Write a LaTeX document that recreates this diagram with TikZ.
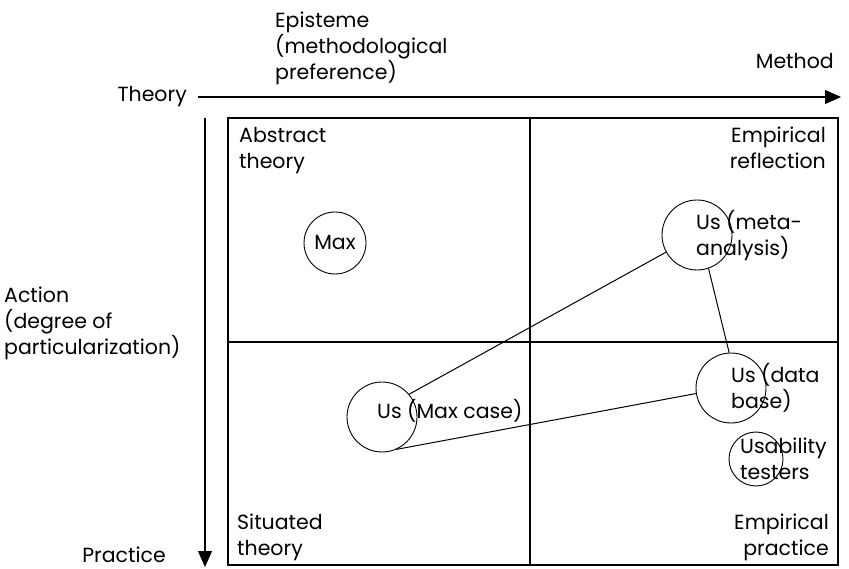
\documentclass[tikz,border=0pt]{standalone}
\usepackage{fontspec}
\setmainfont{Poppins}
\usetikzlibrary{arrows.meta}
\begin{document}
\begin{tikzpicture}[x=1pt,y=-1pt,
  lbl/.style={font=\fontsize{20.5}{26}\selectfont, inner sep=0pt, align=left},
  lblr/.style={lbl, align=right},
  blob/.style={draw, circle, line width=0.9pt, inner sep=0pt},
  link/.style={line width=1pt},
  axis/.style={line width=1.2pt, -{Triangle[length=16pt,width=14pt]}}]
\useasboundingbox (0,0) rectangle (849,569);

% quadrant frame
\draw[line width=2pt] (228,118) rectangle (838,565);
\draw[line width=1.1pt] (530,118) -- (530,565);
\draw[line width=1.1pt] (228,342) -- (838,342);

% axes
\coordinate (ax0) at (198,97);
\coordinate (ax1) at (841,97);
\coordinate (ay0) at (205,118);
\coordinate (ay1) at (205,567);
\draw[axis] (ax0) -- (ax1);
\draw[axis] (ay0) -- (ay1);

% axis labels
\node[lbl, anchor=east] (theory) at (187,97) {Theory};
\node[lbl, anchor=east] (method) at (834,61) {Method};
\node[lbl, anchor=north west] (episteme) at (275,12) {Episteme\\(methodological\\preference)};
\node[lbl, anchor=west] (action) at (4,323) {Action\\(degree of\\particularization)};
\node[lbl, anchor=east] (practice) at (166,555) {Practice};

% quadrant labels
\node[lbl, anchor=north west] (abs) at (239,127) {Abstract\\theory};
\node[lblr, anchor=north east] (emr) at (826,127) {Empirical\\reflection};
\node[lbl, anchor=south west] (sit) at (237,561) {Situated\\theory};
\node[lblr, anchor=south east] (emp) at (829,561) {Empirical\\practice};

% circles
\node[blob, minimum size=62pt] (max) at (335,243) {};
\node[blob, minimum size=70pt] (meta) at (697,235) {};
\node[blob, minimum size=70pt] (db) at (731,388) {};
\node[blob, minimum size=54pt] (ut) at (756,459) {};
\node[blob, minimum size=70pt] (mc) at (382,417) {};

% circle texts
\node[lbl] (maxt) at (max) {Max};
\node[lbl, anchor=west] (metat) at (696,236) {Us (meta-\\analysis)};
\node[lbl, anchor=west] (dbt) at (731,388) {Us (data\\base)};
\node[lbl, anchor=west] (utt) at (740,459) {Usability\\testers};
\node[lbl, anchor=west] (mct) at (377,411) {Us (Max case)};

% links
\draw[link] (mc.40) -- (meta.209);
\draw[link] (mc.294) -- (db.189);
\draw[link] (meta.289) -- (db.93);
\end{tikzpicture}
\end{document}
